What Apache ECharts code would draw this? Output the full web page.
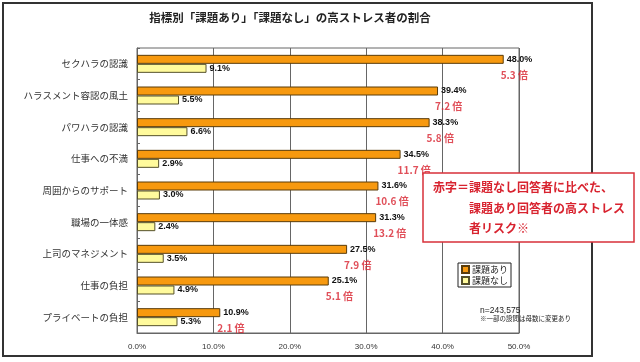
<!DOCTYPE html>
<html>
<head>
<meta charset="utf-8">
<script src="https://cdn.jsdelivr.net/npm/echarts@6/dist/echarts.min.js"></script>
<style>
html,body{margin:0;padding:0;background:#fff;}
#main{width:640px;height:362px;}
</style>
</head>
<body>
<div id="main"></div>
<script>
var categories = ['セクハラの認識','ハラスメント容認の風土','パワハラの認識','仕事への不満','周囲からのサポート','職場の一体感','上司のマネジメント','仕事の負担','プライベートの負担'];
var kadaiAri = [48.0, 39.4, 38.3, 34.5, 31.6, 31.3, 27.5, 25.1, 10.9];
var kadaiNashi = [9.1, 5.5, 6.6, 2.9, 3.0, 2.4, 3.5, 4.9, 5.3];
var riskRatio = [5.3, 7.2, 5.8, 11.7, 10.6, 13.2, 7.9, 5.1, 2.1];
var xTicks = [0, 10, 20, 30, 40, 50];

var FONT = '"Noto Sans CJK JP", "Noto Sans", sans-serif';
var chart = echarts.init(document.getElementById('main'), null, {renderer:'canvas'});

var ratioData = kadaiAri.map(function(v, i){ return {value: v, ratio: riskRatio[i]}; });

var option = {
  backgroundColor: '#fff',
  animation: false,
  textStyle: {fontFamily: FONT},
  grid: {left: 137, top: 48, width: 382, height: 285, show: true, borderColor: '#666', borderWidth: 1, containLabel: false},
  legend: {
    orient: 'vertical', left: 458, top: 263,
    data: ['課題あり','課題なし'],
    itemWidth: 7, itemHeight: 7, itemGap: 2,
    padding: [2, 3, 2, 3],
    borderColor: '#222', borderWidth: 1, backgroundColor: '#fff',
    textStyle: {fontSize: 9, color: '#222', fontFamily: FONT, padding: [0,0,0,-2]},
    icon: 'rect'
  },
  xAxis: {
    type: 'value', min: xTicks[0], max: xTicks[xTicks.length-1], interval: 10,
    axisLine: {show: true, lineStyle: {color: '#666'}},
    axisTick: {show: false},
    splitLine: {show: true, lineStyle: {color: '#666', width: 1}},
    axisLabel: {margin: 10, fontSize: 8, color: '#333', fontFamily: '"Liberation Sans", sans-serif',
      formatter: function(v){ return v.toFixed(1) + '%'; }}
  },
  yAxis: {
    type: 'category', data: categories, inverse: true,
    axisLine: {show: true, lineStyle: {color: '#666'}},
    axisTick: {show: true, inside: true, length: 3, lineStyle: {color: '#666'}},
    axisLabel: {margin: 9, fontSize: 9.5, color: '#333', fontFamily: FONT}
  },
  series: [
    {
      name: '課題あり', type: 'bar', data: kadaiAri, barWidth: 9, barGap: '0%',
      itemStyle: {color: '#F7990F', borderColor: '#5a3c0a', borderWidth: 1},
      label: {show: true, position: 'right', distance: 3, fontSize: 9, fontWeight: 'bold', color: '#111',
        fontFamily: '"Liberation Sans", sans-serif',
        formatter: function(p){ return p.value.toFixed(1) + '%'; }},
      z: 3
    },
    {
      name: '課題なし', type: 'bar', data: kadaiNashi, barWidth: 9,
      itemStyle: {color: '#FFFA9C', borderColor: '#55502a', borderWidth: 1},
      label: {show: true, position: 'right', distance: 3, fontSize: 9, fontWeight: 'bold', color: '#111',
        fontFamily: '"Liberation Sans", sans-serif',
        formatter: function(p){ return p.value.toFixed(1) + '%'; }},
      z: 3
    },
    {
      name: 'ratio', type: 'scatter', data: ratioData, symbolSize: 0, silent: true,
      label: {show: true, position: 'right', distance: 0, offset: [-3, 11], fontSize: 10, fontWeight: 'bold', color: '#D8232F',
        fontFamily: FONT,
        formatter: function(p){ return p.data.ratio.toFixed(1) + ' 倍'; }},
      z: 4
    }
  ],
  graphic: [
    {type: 'rect', shape: {x: 3, y: 3, width: 589, height: 353}, style: {fill: 'none', stroke: '#333', lineWidth: 2}, z: 0, silent: true},
    {type: 'text', x: 290, y: 18, style: {text: '指標別「課題あり」「課題なし」の高ストレス者の割合', fontSize: 11.5, fontWeight: 'bold', fill: '#222', fontFamily: FONT, textAlign: 'center', textVerticalAlign: 'middle'}, z: 10},
    {type: 'rect', shape: {x: 423, y: 173, width: 211, height: 69}, style: {fill: '#fff', stroke: '#D8303A', lineWidth: 1.5}, z: 100},
    {type: 'text', x: 433, y: 187, style: {text: '赤字＝課題なし回答者に比べた、', fontSize: 12, fontWeight: 'bold', fill: '#D8232F', fontFamily: FONT, textVerticalAlign: 'middle'}, z: 101},
    {type: 'text', x: 469, y: 208, style: {text: '課題あり回答者の高ストレス', fontSize: 12, fontWeight: 'bold', fill: '#D8232F', fontFamily: FONT, textVerticalAlign: 'middle'}, z: 101},
    {type: 'text', x: 469, y: 228, style: {text: '者リスク※', fontSize: 12, fontWeight: 'bold', fill: '#D8232F', fontFamily: FONT, textVerticalAlign: 'middle'}, z: 101},
    {type: 'text', x: 480, y: 311, style: {text: 'n=243,575', fontSize: 8.5, fill: '#222', fontFamily: '"Liberation Sans", sans-serif', textVerticalAlign: 'middle'}, z: 10},
    {type: 'text', x: 480, y: 319, style: {text: '※一部の設問は母数に変更あり', fontSize: 6.5, fill: '#222', fontFamily: FONT, textVerticalAlign: 'middle'}, z: 10}
  ]
};
chart.setOption(option);
</script>
</body>
</html>
